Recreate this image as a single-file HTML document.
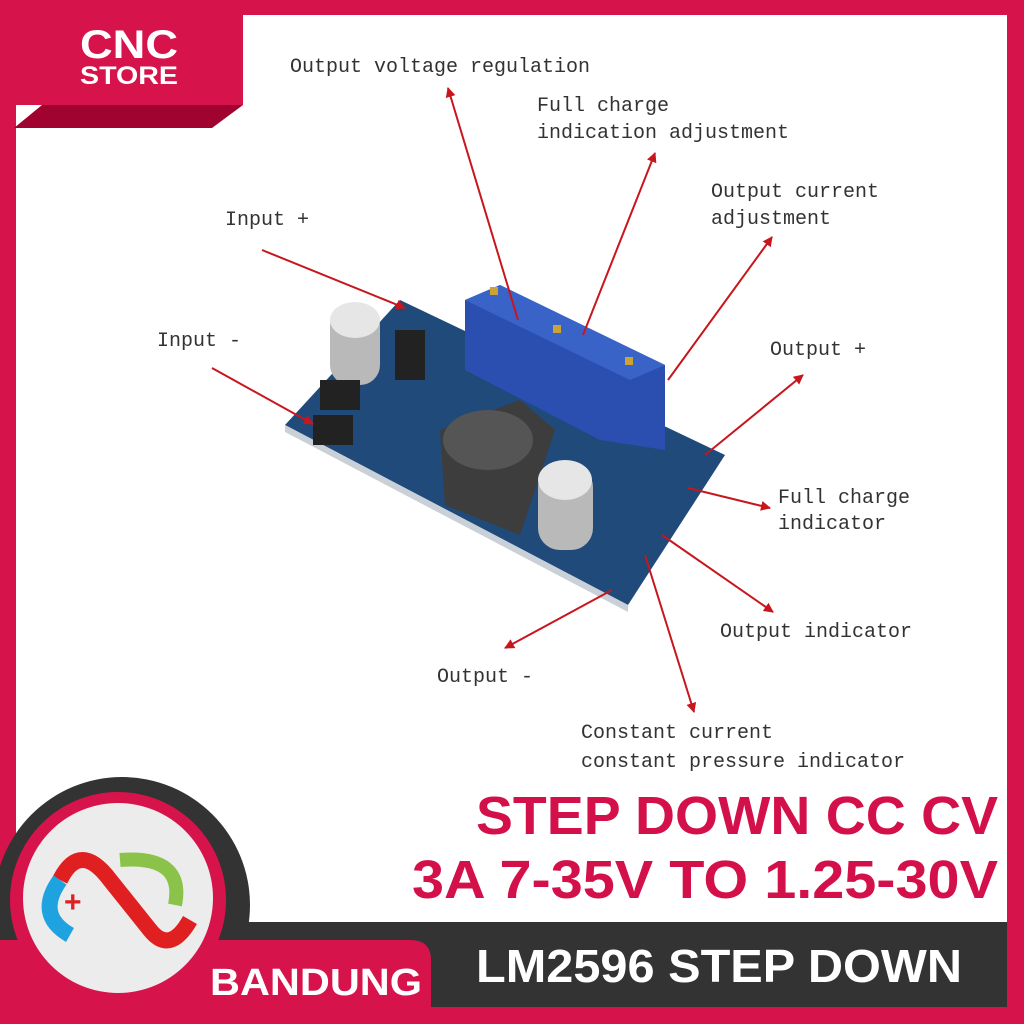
<!DOCTYPE html>
<html><head><meta charset="utf-8"><style>html,body{margin:0;padding:0;background:#d7134c}svg{display:block}</style></head>
<body>
<svg width="1024" height="1024" viewBox="0 0 1024 1024" xmlns="http://www.w3.org/2000/svg">
<defs>
<marker id="ah" viewBox="0 0 10 10" refX="9" refY="5" markerWidth="5" markerHeight="5" orient="auto"><path d="M0,0 L10,5 L0,10 z" fill="#c8161d"/></marker>
</defs>
<rect width="1024" height="1024" fill="#d7134c"/>
<rect x="16" y="15" width="991" height="907" fill="#fff"/>
<!-- logo top-left -->
<rect x="16" y="15" width="227" height="90" fill="#d7134c"/>
<polygon points="42,105 243,105 212,128 14,128" fill="#a00330"/>
<text x="129" y="58" font-family="Liberation Sans, sans-serif" font-weight="bold" font-size="40" fill="#fff" text-anchor="middle" textLength="98" lengthAdjust="spacingAndGlyphs">CNC</text>
<text x="129" y="84" font-family="Liberation Sans, sans-serif" font-weight="bold" font-size="25" fill="#fff" text-anchor="middle" textLength="98" lengthAdjust="spacingAndGlyphs">STORE</text>

<!-- board -->
<polygon points="285,425 400,300 725,455 628,605" fill="#1f4a7a"/>
<polygon points="285,425 628,605 628,612 285,432" fill="#c9d0d8"/>
<polygon points="465,300 500,285 665,365 665,450 600,440 465,370" fill="#2a4fb0"/>
<polygon points="465,300 500,285 665,365 630,380" fill="#3a63c8"/>
<polygon points="440,430 520,400 555,430 520,535 445,505" fill="#3d3d3d"/>
<ellipse cx="488" cy="440" rx="45" ry="30" fill="#555"/>
<rect x="330" y="305" width="50" height="80" rx="20" fill="#b9b9b9"/>
<ellipse cx="355" cy="320" rx="25" ry="18" fill="#e6e6e6"/>
<rect x="538" y="465" width="55" height="85" rx="22" fill="#b9b9b9"/>
<ellipse cx="565" cy="480" rx="27" ry="20" fill="#e6e6e6"/>
<rect x="320" y="380" width="40" height="30" fill="#222"/>
<rect x="313" y="415" width="40" height="30" fill="#222"/>
<rect x="395" y="330" width="30" height="50" fill="#222"/>
<rect x="490" y="287" width="8" height="8" fill="#c9a336"/>
<rect x="553" y="325" width="8" height="8" fill="#c9a336"/>
<rect x="625" y="357" width="8" height="8" fill="#c9a336"/>

<!-- arrows -->
<g stroke="#c8161d" stroke-width="2" fill="none" marker-end="url(#ah)">
<line x1="518" y1="320" x2="448" y2="88"/>
<line x1="583" y1="335" x2="655" y2="153"/>
<line x1="668" y1="380" x2="772" y2="237"/>
<line x1="262" y1="250" x2="405" y2="308"/>
<line x1="212" y1="368" x2="313" y2="424"/>
<line x1="705" y1="455" x2="803" y2="375"/>
<line x1="688" y1="488" x2="770" y2="508"/>
<line x1="662" y1="535" x2="773" y2="612"/>
<line x1="612" y1="590" x2="505" y2="648"/>
<line x1="645" y1="555" x2="694" y2="712"/>
</g>

<g font-family="Liberation Mono, monospace" font-size="20" fill="#333">
<text x="290" y="72">Output voltage regulation</text>
<text x="537" y="111">Full charge</text>
<text x="537" y="138">indication adjustment</text>
<text x="711" y="197">Output current</text>
<text x="711" y="224">adjustment</text>
<text x="225" y="225">Input +</text>
<text x="157" y="346">Input -</text>
<text x="770" y="355">Output +</text>
<text x="778" y="503">Full charge</text>
<text x="778" y="529">indicator</text>
<text x="720" y="637">Output indicator</text>
<text x="437" y="682">Output -</text>
<text x="581" y="738">Constant current</text>
<text x="581" y="767">constant pressure indicator</text>
</g>

<!-- headline -->
<g font-family="Liberation Sans, sans-serif" font-weight="bold" fill="#d4104a">
<text x="476" y="834" font-size="54" textLength="522" lengthAdjust="spacingAndGlyphs">STEP DOWN CC CV</text>
<text x="412" y="898" font-size="54" textLength="586" lengthAdjust="spacingAndGlyphs">3A 7-35V TO 1.25-30V</text>
</g>

<!-- bottom bar -->
<rect x="200" y="922" width="807" height="85" fill="#333"/>
<circle cx="122" cy="905" r="128" fill="#333"/>
<path d="M0,940 L410,940 Q431,940 431,960 L431,1024 L0,1024 Z" fill="#d7134c"/>
<circle cx="118" cy="900" r="108" fill="#d7134c"/>
<circle cx="118" cy="898" r="95" fill="#ececec"/>
<rect x="0" y="1007" width="1024" height="17" fill="#d7134c"/>
<rect x="1007" y="15" width="17" height="1009" fill="#d7134c"/>
<!-- infinity logo -->
<path d="M60,880 Q80,840 110,880 L150,930 Q170,955 190,920" stroke="#e02020" stroke-width="16" fill="none"/>
<path d="M60,880 Q35,915 70,935" stroke="#1fa3e0" stroke-width="16" fill="none"/>
<path d="M120,860 Q185,855 175,905" stroke="#8bc34a" stroke-width="14" fill="none"/>
<text x="64" y="912" font-family="Liberation Sans, sans-serif" font-weight="bold" font-size="30" fill="#e02020">+</text>
<text x="210" y="995" font-family="Liberation Sans, sans-serif" font-weight="bold" font-size="38" fill="#fff" textLength="212" lengthAdjust="spacingAndGlyphs">BANDUNG</text>
<text x="476" y="982" font-family="Liberation Sans, sans-serif" font-weight="bold" font-size="46" fill="#fff" textLength="486" lengthAdjust="spacingAndGlyphs">LM2596 STEP DOWN</text>
</svg>
</body></html>
